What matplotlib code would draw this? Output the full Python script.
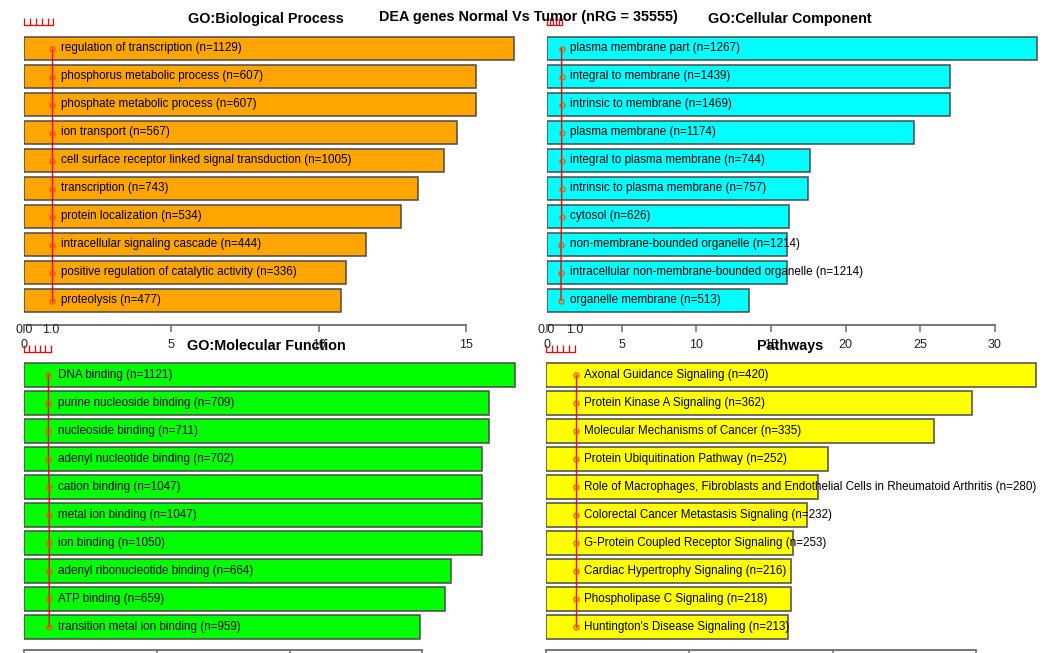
"""
Enrichment barplot: DEA genes Normal Vs Tumor.

Four panels (GO BP / CC / MF and canonical pathways), bars are
-log10(FDR) and the red line is the ratio of genes in each term.
"""

import numpy as np
import matplotlib

matplotlib.use("Agg")

import matplotlib.pyplot as plt

plt.rcParams["font.family"] = ["Liberation Sans", "DejaVu Sans"]

# =========================================================
# Data
# =========================================================

bp_terms = [
    "regulation of transcription",
    "phosphorus metabolic process",
    "phosphate metabolic process",
    "ion transport",
    "cell surface receptor linked signal transduction",
    "transcription",
    "protein localization",
    "intracellular signaling cascade",
    "positive regulation of catalytic activity",
    "proteolysis",
]
bp_n = [1129, 607, 607, 567, 1005, 743, 534, 444, 336, 477]
bp_fdr = [16.63, 15.34, 15.34, 14.69, 14.25, 13.37, 12.79, 11.61, 10.93, 10.76]
bp_ratio = [0.96, 0.96, 0.96, 0.96, 0.96, 0.96, 0.96, 0.96, 0.96, 0.96]

cc_terms = [
    "plasma membrane part",
    "integral to membrane",
    "intrinsic to membrane",
    "plasma membrane",
    "integral to plasma membrane",
    "intrinsic to plasma membrane",
    "cytosol",
    "non-membrane-bounded organelle",
    "intracellular non-membrane-bounded organelle",
    "organelle membrane",
]
cc_n = [1267, 1439, 1469, 1174, 744, 757, 626, 1214, 1214, 513]
cc_fdr = [32.8, 27.0, 27.0, 24.6, 17.6, 17.5, 16.2, 16.1, 16.1, 13.5]
cc_ratio = [0.98, 0.98, 0.98, 0.98, 0.98, 0.98, 0.98, 0.94, 0.94, 0.94]

mf_terms = [
    "DNA binding",
    "purine nucleoside binding",
    "nucleoside binding",
    "adenyl nucleotide binding",
    "cation binding",
    "metal ion binding",
    "ion binding",
    "adenyl ribonucleotide binding",
    "ATP binding",
    "transition metal ion binding",
]
mf_n = [1121, 709, 711, 702, 1047, 1047, 1050, 664, 659, 959]
mf_fdr = [18.5, 17.5, 17.5, 17.25, 17.25, 17.25, 17.25, 16.1, 15.85, 14.9]
mf_ratio = [0.92, 0.92, 0.92, 0.92, 0.95, 0.95, 0.95, 0.95, 0.95, 0.95]

pw_terms = [
    "Axonal Guidance Signaling",
    "Protein Kinase A Signaling",
    "Molecular Mechanisms of Cancer",
    "Protein Ubiquitination Pathway",
    "Role of Macrophages, Fibroblasts and Endothelial Cells in Rheumatoid Arthritis",
    "Colorectal Cancer Metastasis Signaling",
    "G-Protein Coupled Receptor Signaling",
    "Cardiac Hypertrophy Signaling",
    "Phospholipase C Signaling",
    "Huntington's Disease Signaling",
]
pw_n = [420, 362, 335, 252, 280, 232, 253, 216, 218, 213]
pw_fdr = [17.1, 14.85, 13.55, 9.85, 9.5, 9.1, 8.6, 8.55, 8.55, 8.45]
pw_ratio = [1.03, 1.03, 1.03, 1.03, 1.03, 1.03, 1.03, 1.03, 1.03, 1.03]

# =========================================================
# Figure geometry (pixels, dpi=100)
# =========================================================

W, H = 1053, 653
DPI = 100
ROW = 28.0      # pixels between bar centres
MARGIN = 0.1    # extra rows above / below the bars

fig = plt.figure(figsize=(W / DPI, H / DPI), dpi=DPI)


def make_axes(x0, px_per_unit, right, first_center):
    """Axes whose data 0 sits at pixel x0 and first bar centre at first_center."""
    top = first_center - ROW * (0.5 + MARGIN)
    bottom = first_center + ROW * (9 + 0.5 + MARGIN)
    ax = fig.add_axes([
        x0 / W,
        1 - bottom / H,
        (right - x0) / W,
        (bottom - top) / H,
    ])
    ax.set_xlim(0, (right - x0) / px_per_unit)
    ax.set_ylim(9.5 + MARGIN, -0.5 - MARGIN)
    return ax, bottom - top


def draw_panel(ax, height_px, terms, counts, fdr, ratio, color,
               xmax_tick, red_labels, axis_gap):
    y = np.arange(len(terms))

    # bars
    ax.barh(
        y, fdr, height=0.83, left=0,
        color=color, edgecolor="#4a4a4a", linewidth=1.1, zorder=2
    )

    # ratio line
    ax.plot(
        ratio, y,
        color="red", linewidth=1.0, zorder=3,
        marker="o", markersize=3.6, markerfacecolor="none",
        markeredgecolor="#ff4d00", markeredgewidth=0.9
    )

    # term labels
    x_text = max(ratio)
    for yi, term, n in zip(y, terms, counts):
        ax.annotate(
            f"{term} (n={n})",
            xy=(x_text, yi), xytext=(6, 0), textcoords="offset points",
            ha="left", va="center", fontsize=8.4, color="black", zorder=4
        )

    # bottom axis, R style
    for side in ("left", "right", "top"):
        ax.spines[side].set_visible(False)
    ax.spines["bottom"].set_bounds(0, xmax_tick)
    ax.spines["bottom"].set_position(("outward", axis_gap * 0.72))
    ax.spines["bottom"].set_color("#6b6b6b")
    ax.spines["bottom"].set_linewidth(1.3)
    ax.set_xticks(np.arange(0, xmax_tick + 1, 5))
    ax.tick_params(
        axis="x", direction="out", length=5, width=1.1,
        color="#6b6b6b", labelsize=9, labelcolor="#222222", pad=5
    )
    ax.set_yticks([])

    # red ratio axis on top
    sec = ax.secondary_xaxis(1 + 6.5 / height_px)
    sec.spines["top"].set_bounds(0, 1.0)
    sec.spines["top"].set_color("red")
    sec.spines["top"].set_linewidth(0.9)
    sec.set_xticks(
        np.linspace(0, 1.0, 6),
        labels=["0.0", "", "", "", "", "1.0"] if red_labels else [""] * 6
    )
    sec.tick_params(
        axis="x", direction="out", length=5, width=0.9,
        color="red", labelsize=9, labelcolor="#222222", pad=6
    )
    for side in ("left", "right", "bottom"):
        sec.spines[side].set_visible(False)


# =========================================================
# Panels
# =========================================================

ax_bp, h_bp = make_axes(24, 29.47, 520, 48.5)
draw_panel(ax_bp, h_bp, bp_terms, bp_n, bp_fdr, bp_ratio, "#ffa500",
           15, False, 7.7)

ax_cc, h_cc = make_axes(547, 14.93, 1045, 48.5)
draw_panel(ax_cc, h_cc, cc_terms, cc_n, cc_fdr, cc_ratio, "#00ffff",
           30, False, 7.7)

ax_mf, h_mf = make_axes(24, 26.55, 520, 375)
draw_panel(ax_mf, h_mf, mf_terms, mf_n, mf_fdr, mf_ratio, "#00ff00",
           15, True, 6.2)

ax_pw, h_pw = make_axes(546, 28.67, 1045, 375)
draw_panel(ax_pw, h_pw, pw_terms, pw_n, pw_fdr, pw_ratio, "#ffff00",
           15, True, 6.2)

# =========================================================
# Titles
# =========================================================

title_kw = dict(ha="center", va="center", fontsize=10.4, fontweight="bold")

fig.text(265.5 / W, 1 - 19 / H, "GO:Biological Process", **title_kw)
fig.text(790 / W, 1 - 19 / H, "GO:Cellular Component", **title_kw)
fig.text(266 / W, 1 - 346 / H, "GO:Molecular Function", **title_kw)
fig.text(790 / W, 1 - 346 / H, "Pathways", **title_kw)
fig.text(528 / W, 1 - 17 / H,
         "DEA genes Normal Vs Tumor (nRG = 35555)", **title_kw)

fig.savefig("out.png", dpi=DPI, facecolor="white")
